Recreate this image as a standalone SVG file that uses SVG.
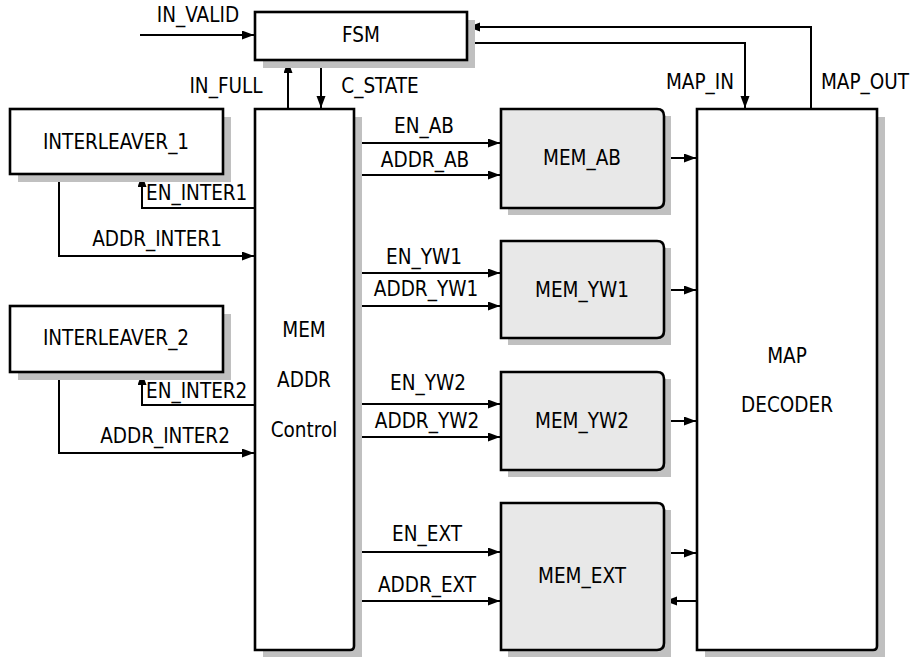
<svg xmlns="http://www.w3.org/2000/svg" width="913" height="657" viewBox="0 0 913 657">
<style>
text{font-family:"DejaVu Sans Condensed","DejaVu Sans",sans-serif;font-stretch:condensed;font-size:20.5px;fill:#000}
.c{text-anchor:middle}
.box{fill:#fff;stroke:#000;stroke-width:2.6}
.mem{fill:#e8e8e8;stroke:#000;stroke-width:2.6}
.sh{fill:#c0c0c0;stroke:none}
.ln{fill:none;stroke:#000;stroke-width:2}
.ar{marker-end:url(#ah)}
</style>
<defs>
<marker id="ah" markerUnits="userSpaceOnUse" markerWidth="13" markerHeight="10" refX="12" refY="4.5" orient="auto">
<path d="M0,0 L12,4.5 L0,9 z" fill="#000"/>
</marker>
</defs>
<g id="connectors">
<path class="ln ar" d="M140,35 H254"/>
<path class="ln ar" d="M321,60 V108"/>
<path class="ln ar" d="M288,109 V61"/>
<path class="ln ar" d="M467,43 H745 V108"/>
<path class="ln ar" d="M811,109 V27 H468"/>
<path class="ln ar" d="M255,208 H142 V175"/>
<path class="ln ar" d="M59,174 V256 H254"/>
<path class="ln ar" d="M255,405 H142 V373"/>
<path class="ln ar" d="M59,372 V453 H254"/>
<path class="ln ar" d="M354,143 H500"/>
<path class="ln ar" d="M354,175 H500"/>
<path class="ln ar" d="M354,273 H500"/>
<path class="ln ar" d="M354,306 H500"/>
<path class="ln ar" d="M354,404 H500"/>
<path class="ln ar" d="M354,437 H500"/>
<path class="ln ar" d="M354,552 H500"/>
<path class="ln ar" d="M354,601 H500"/>
<path class="ln ar" d="M664,158 H696"/>
<path class="ln ar" d="M664,290 H696"/>
<path class="ln ar" d="M664,421 H696"/>
<path class="ln ar" d="M664,553 H696"/>
<path class="ln ar" d="M697,601 H665"/>
<text class="c" x="198" y="22">IN_VALID</text>
<text class="c" x="226" y="93">IN_FULL</text>
<text class="c" x="380" y="93">C_STATE</text>
<text class="c" x="700" y="89">MAP_IN</text>
<text class="c" x="865" y="89">MAP_OUT</text>
<text x="146" y="200">EN_INTER1</text>
<text class="c" x="157" y="246">ADDR_INTER1</text>
<text x="146" y="398">EN_INTER2</text>
<text class="c" x="165" y="443">ADDR_INTER2</text>
<text class="c" x="424" y="133">EN_AB</text>
<text class="c" x="425" y="167">ADDR_AB</text>
<text class="c" x="424" y="264">EN_YW1</text>
<text class="c" x="426" y="296">ADDR_YW1</text>
<text class="c" x="428" y="390">EN_YW2</text>
<text class="c" x="427" y="428">ADDR_YW2</text>
<text class="c" x="427" y="541">EN_EXT</text>
<text class="c" x="427" y="592">ADDR_EXT</text>
</g>
<g id="fsm">
<rect class="sh" x="263" y="20" width="212" height="48"/>
<rect class="box" x="255" y="12" width="212" height="48"/>
<text class="c" x="361" y="42">FSM</text>
</g>
<g id="interleaver1">
<rect class="sh" x="18" y="117" width="213" height="65"/>
<rect class="box" x="10" y="109" width="213" height="65"/>
<text class="c" x="116" y="149">INTERLEAVER_1</text>
</g>
<g id="interleaver2">
<rect class="sh" x="18" y="314" width="213" height="66"/>
<rect class="box" x="10" y="306" width="213" height="66"/>
<text class="c" x="116" y="345">INTERLEAVER_2</text>
</g>
<g id="memaddr">
<rect class="sh" x="263" y="117" width="99" height="541"/>
<path class="box" d="M255,109 H354 V646 Q354,650 350,650 H255 Z"/>
<text class="c" x="304" y="337">MEM</text>
<text class="c" x="304" y="387">ADDR</text>
<text class="c" x="304" y="437">Control</text>
</g>
<g id="mem_ab">
<rect class="sh" x="508" y="116" width="163" height="99"/>
<path class="mem" d="M501,109 H657 Q664,109 664,116 V201 Q664,208 657,208 H501 Z"/>
<text class="c" x="582" y="165">MEM_AB</text>
</g>
<g id="mem_yw1">
<rect class="sh" x="508" y="248" width="163" height="97"/>
<path class="mem" d="M501,241 H657 Q664,241 664,248 V331 Q664,338 657,338 H501 Z"/>
<text class="c" x="582" y="297">MEM_YW1</text>
</g>
<g id="mem_yw2">
<rect class="sh" x="508" y="379" width="163" height="98"/>
<path class="mem" d="M501,372 H657 Q664,372 664,379 V463 Q664,470 657,470 H501 Z"/>
<text class="c" x="582" y="428">MEM_YW2</text>
</g>
<g id="mem_ext">
<rect class="sh" x="508" y="510" width="163" height="147"/>
<path class="mem" d="M501,503 H657 Q664,503 664,510 V643 Q664,650 657,650 H501 Z"/>
<text class="c" x="582" y="583">MEM_EXT</text>
</g>
<g id="map_decoder">
<rect class="sh" x="705" y="117" width="180" height="541"/>
<path class="box" d="M697,109 H877 V646 Q877,650 873,650 H697 Z"/>
<text class="c" x="787" y="363">MAP</text>
<text class="c" x="787" y="412">DECODER</text>
</g>
</svg>
